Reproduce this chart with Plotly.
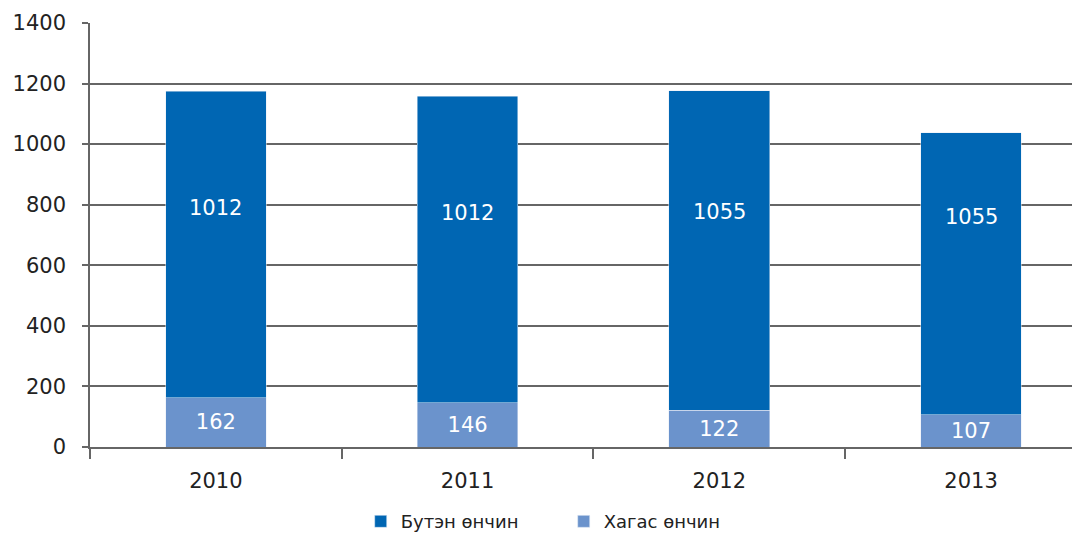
import plotly.graph_objects as go

years = ["2010", "2011", "2012", "2013"]
half_orphans = [162, 146, 122, 107]          # Хагас өнчин (light)
full_orphans = [1012, 1012, 1055, 930]       # Бутэн өнчин (dark), bar heights as drawn
full_labels = ["1012", "1012", "1055", "1055"]  # labels printed on dark bars
half_labels = [str(v) for v in half_orphans]

DARK = "#0066B3"
LIGHT = "#6B93CC"
FONT = "DejaVu Sans"
TXT = "#222222"
GRID = "#666666"

fig = go.Figure()
fig.add_trace(go.Bar(
    x=years, y=half_orphans, name="Хагас өнчин", marker_color=LIGHT,
    text=half_labels, textposition="inside", insidetextanchor="middle",
    textfont=dict(color="white", size=21, family=FONT), width=0.4,
    textangle=0,
))
fig.add_trace(go.Bar(
    x=years, y=full_orphans, name="Бутэн өнчин", marker_color=DARK,
    width=0.4,
))

for i, (h, lab) in enumerate(zip(half_orphans, full_labels)):
    fig.add_annotation(x=i, y=h + 0.62 * float(lab), xref="x", yref="y", text=lab,
                       showarrow=False, font=dict(color="white", size=21, family=FONT))

# page body has an 8px offset: figure sized/margined to compensate
fig.update_layout(
    barmode="stack",
    width=1072, height=526,
    margin=dict(l=82, r=2, t=15, b=87, autoexpand=False),
    paper_bgcolor="white", plot_bgcolor="white",
    font=dict(family=FONT, size=20, color=TXT),
    legend=dict(orientation="h", x=0.274, xanchor="left", y=-0.176, yanchor="middle",
                traceorder="reversed", font=dict(size=18, color=TXT),
                itemwidth=30, entrywidth=158, entrywidthmode="pixels"),
    xaxis=dict(
        range=[-0.5, 3.425], showgrid=False, automargin=False,
        showline=True, linecolor=GRID, linewidth=1.5,
        ticks="outside", tickson="boundaries", ticklen=10, tickcolor=GRID,
        tickwidth=1.5, ticklabelstandoff=14, tickfont=dict(size=21, color=TXT),
    ),
    yaxis=dict(
        range=[0, 1400], dtick=200, showgrid=True, gridcolor=GRID, gridwidth=1.5,
        showline=True, linecolor=GRID, linewidth=1.5, automargin=False,
        ticks="outside", ticklen=6, tickcolor=GRID, tickwidth=1.5,
        ticklabelstandoff=12, tickfont=dict(size=21, color=TXT), zeroline=False,
    ),
)

fig.write_html("out.html")
